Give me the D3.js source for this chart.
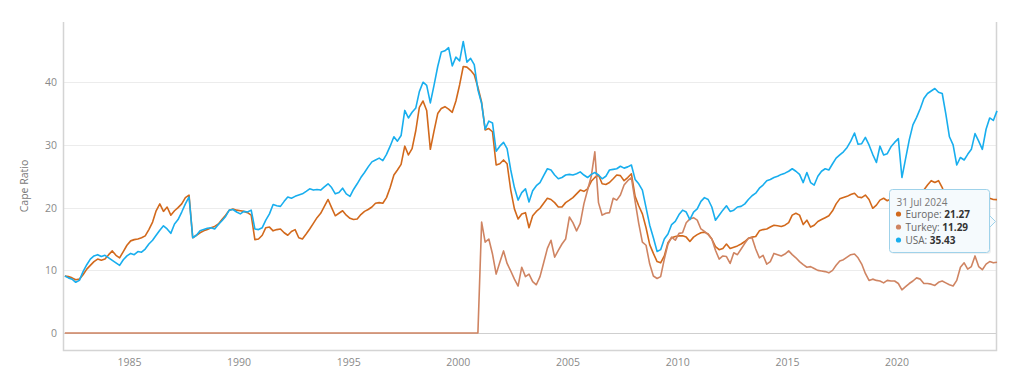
<!DOCTYPE html>
<html>
<head>
<meta charset="utf-8">
<script src="https://cdn.jsdelivr.net/npm/d3@7"></script>
<style>
  body { margin: 0; background: #fff; }
  svg { display: block; font-family: 'Open Sans', sans-serif; }
</style>
</head>
<body>
<div id="chart"></div>
<script>
// series + colours (legend order, later ones drawn on top)
const seriesNames = ['Europe', 'Turkey', 'USA']
const seriesColors = ['#d2691c', '#cf8462', '#18aeee']
const yTicks = [0, 10, 20, 30, 40]
const xTickYears = [1985, 1990, 1995, 2000, 2005, 2010, 2015, 2020]
const yTitle = 'Cape Ratio'
const tooltipDate = '31 Jul 2024'

// one value every 2 months, end of month, Jan 1982 .. Jul 2024
const europe = [
  9.1, 9.0, 8.8, 8.5, 8.6, 9.3, 10.2, 10.8, 11.4, 11.8, 11.6, 11.8,
  12.5, 13.1, 12.4, 12.0, 13.0, 14.0, 14.7, 14.9, 15.0, 15.2, 15.5, 16.5,
  17.7, 19.5, 20.6, 19.4, 20.1, 18.8, 19.5, 20.0, 20.6, 21.6, 22.0, 15.2,
  15.6, 16.0, 16.3, 16.5, 16.8, 17.0, 17.4, 18.1, 18.8, 19.6, 19.8, 19.6,
  19.5, 19.4, 19.2, 18.8, 14.9, 15.0, 15.6, 16.8, 16.9, 16.3, 16.5, 16.6,
  16.0, 15.6, 16.2, 16.5, 15.2, 15.0, 15.8, 16.6, 17.5, 18.4, 19.1, 20.2,
  21.3, 20.0, 18.7, 19.1, 19.5, 18.8, 18.3, 18.1, 18.2, 18.9, 19.4, 19.7,
  20.1, 20.7, 20.8, 20.7, 21.6, 23.2, 25.2, 26.0, 26.9, 29.8, 28.4, 29.4,
  32.3, 36.0, 37.0, 35.5, 29.3, 32.2, 35.0, 35.8, 36.1, 35.7, 35.2, 37.0,
  39.6, 42.5, 42.4, 41.9, 41.2, 39.2, 36.8, 32.4, 32.6, 32.1, 26.8, 27.0,
  27.6, 27.0, 22.8, 19.8, 18.2, 19.0, 19.2, 16.8, 18.7, 19.4, 19.9, 20.7,
  21.5, 21.3, 20.8, 20.1, 20.1, 20.8, 21.2, 21.6, 22.2, 22.8, 22.6, 23.0,
  24.2, 24.8, 25.2, 23.8, 23.7, 24.0, 24.6, 25.2, 25.1, 24.3, 24.8, 25.4,
  21.8, 20.3, 19.0, 16.8, 14.1, 12.7, 11.4, 11.2, 12.3, 14.4, 15.2, 15.4,
  15.5, 15.5, 15.3, 14.6, 15.3, 15.7, 16.0, 16.1, 15.8, 15.0, 13.8, 13.3,
  13.5, 14.2, 13.5, 13.7, 13.9, 14.2, 14.6, 15.1, 15.3, 15.4, 16.3, 16.5,
  16.6, 16.9, 17.2, 17.1, 17.0, 17.2, 17.6, 18.8, 19.1, 18.8, 17.3, 18.0,
  16.9, 17.2, 17.8, 18.1, 18.4, 18.7, 19.5, 20.6, 21.4, 21.6, 21.8, 22.1,
  22.3, 21.7, 21.6, 22.0, 21.3, 19.9, 20.4, 21.2, 21.5, 21.1, 21.4, 21.8,
  21.4, 20.6, 22.0, 21.8, 21.6, 21.7, 22.0, 22.8, 23.6, 24.3, 24.0, 24.3,
  23.2, 21.5, 20.2, 19.4, 19.6, 20.3, 20.5, 20.9, 21.2, 21.5, 21.2, 21.5,
  21.8, 21.5, 21.3, 21.27
]

const turkey = [
  0, 0, 0, 0, 0, 0, 0, 0, 0, 0, 0, 0,
  0, 0, 0, 0, 0, 0, 0, 0, 0, 0, 0, 0,
  0, 0, 0, 0, 0, 0, 0, 0, 0, 0, 0, 0,
  0, 0, 0, 0, 0, 0, 0, 0, 0, 0, 0, 0,
  0, 0, 0, 0, 0, 0, 0, 0, 0, 0, 0, 0,
  0, 0, 0, 0, 0, 0, 0, 0, 0, 0, 0, 0,
  0, 0, 0, 0, 0, 0, 0, 0, 0, 0, 0, 0,
  0, 0, 0, 0, 0, 0, 0, 0, 0, 0, 0, 0,
  0, 0, 0, 0, 0, 0, 0, 0, 0, 0, 0, 0,
  0, 0, 0, 0, 0, 0, 17.7, 14.5, 15.0, 12.6, 9.4, 11.3,
  13.1, 11.1, 9.9, 8.6, 7.5, 10.5, 9.0, 9.4, 8.2, 7.7, 9.0, 11.2,
  13.5, 14.8, 12.1, 13.2, 14.2, 15.0, 18.5, 17.6, 16.3, 17.5, 20.6, 22.8,
  25.0, 28.9, 20.8, 18.8, 19.1, 19.2, 21.5, 21.2, 22.0, 23.6, 24.3, 24.8,
  21.0, 17.5, 14.5, 14.0, 11.0, 9.1, 8.7, 9.0, 11.8, 14.2, 15.3, 14.8,
  15.9, 16.0, 17.6, 18.2, 18.4, 18.0, 16.6, 16.2, 15.7, 15.0, 13.2, 11.8,
  12.3, 12.2, 11.1, 12.8, 12.5, 13.4, 14.3, 15.1, 15.2, 13.4, 12.0, 12.4,
  11.0, 11.4, 12.7, 12.5, 12.3, 12.6, 13.1, 12.5, 12.0, 11.4, 10.9, 10.5,
  10.6, 10.3, 10.0, 9.9, 9.8, 9.6, 10.0, 10.8, 11.5, 11.7, 12.1, 12.5,
  12.6, 12.0, 11.0, 9.5, 8.4, 8.6, 8.4, 8.3, 8.0, 8.4, 8.3, 8.3,
  7.9, 6.9, 7.4, 7.9, 8.3, 8.8, 8.6, 7.9, 7.9, 7.8, 7.6, 8.1,
  8.3, 8.0, 7.7, 7.5, 8.4, 10.5, 11.2, 10.2, 10.6, 12.3, 10.6, 10.1,
  11.0, 11.4, 11.2, 11.29
]

const usa = [
  9.1, 8.8, 8.6, 8.1, 8.4, 9.8, 10.9, 11.8, 12.3, 12.5, 12.2, 12.4,
  12.0, 11.6, 11.2, 10.8, 11.7, 12.3, 12.7, 12.5, 13.0, 12.9, 13.4, 14.2,
  14.8, 15.6, 16.4, 17.1, 16.6, 15.9, 17.4, 18.1, 19.3, 20.6, 21.7, 15.2,
  15.6, 16.3, 16.5, 16.7, 16.8, 16.6, 17.3, 17.9, 18.6, 19.6, 19.7, 19.3,
  19.0, 19.4, 19.3, 19.6, 16.6, 16.5, 16.8, 18.0, 19.0, 20.5, 20.3, 20.2,
  21.0, 21.7, 21.5, 21.8, 22.0, 22.2, 22.6, 23.0, 22.8, 22.9, 22.8, 23.3,
  23.8, 23.2, 22.2, 22.4, 23.1, 22.2, 21.8, 22.9, 23.8, 24.8, 25.6, 26.5,
  27.3, 27.6, 27.9, 27.5, 28.5, 29.8, 31.3, 30.6, 31.5, 35.5, 34.3, 35.2,
  35.9, 38.5, 40.0, 39.5, 36.7, 39.5, 42.5, 44.8, 45.0, 45.5, 42.6, 44.0,
  43.4, 46.5, 43.2, 43.8, 42.8, 38.8, 36.6, 32.5, 33.8, 33.5, 29.0, 29.8,
  30.4, 29.4, 26.0, 23.2, 21.2, 22.4, 23.0, 20.9, 22.7, 23.5, 24.0, 25.1,
  26.2, 26.0, 25.2, 24.6, 24.8, 25.2, 25.3, 25.2, 25.4, 25.7, 25.2, 24.8,
  25.3, 25.6, 25.2, 24.6, 25.0, 26.0, 26.1, 26.2, 26.6, 26.3, 26.5, 26.8,
  24.5, 23.8, 22.8, 20.0, 17.2, 15.2, 13.0, 13.3, 15.0, 15.8, 17.3, 17.8,
  18.9, 19.6, 19.3, 18.1, 19.3, 19.8, 21.0, 21.6, 21.3, 20.1, 18.0, 18.8,
  19.6, 20.3, 19.4, 19.6, 20.1, 20.2, 20.6, 21.3, 21.9, 22.3, 23.1, 23.6,
  24.3, 24.5, 24.8, 25.0, 25.3, 25.5, 25.8, 26.2, 25.8, 25.3, 24.0, 25.6,
  24.0, 23.6, 25.0, 25.8, 26.2, 26.0, 27.0, 27.9, 28.4, 28.9, 29.6, 30.6,
  31.9, 30.1, 30.2, 31.2, 30.0, 28.5, 27.2, 29.8, 28.4, 28.6, 29.7, 30.4,
  31.0, 24.8, 27.8, 30.8, 33.2, 34.4, 35.8, 37.4, 38.2, 38.6, 39.0, 38.4,
  38.2, 35.0, 31.3, 30.0, 26.8, 28.0, 27.6, 28.5, 29.3, 31.8, 30.6, 29.3,
  32.5, 34.3, 33.9, 35.43
]

const seriesValues = [europe, turkey, usa]

// set the dimensions and margins of the graph
const margin = { top: 22, right: 27, bottom: 27, left: 63 },
  width = 1024 - margin.left - margin.right,
  height = 377 - margin.top - margin.bottom

const dates = europe.map((_, i) =>
  d3.timeDay.offset(d3.timeMonth.offset(new Date(1982, 1, 1), i * 2), -1)
)

const svg = d3
  .select('#chart')
  .append('svg')
  .attr('width', 1024)
  .attr('height', 377)

const g = svg.append('g').attr('transform', `translate(${margin.left}, ${margin.top})`)

const xScale = d3
  .scaleTime()
  .domain([new Date(1981, 11, 31), dates[dates.length - 1]])
  .range([0, width])

const yScale = d3.scaleLinear().domain([-2.7, 49.6]).range([height, 0])

// horizontal grid lines
g.append('g')
  .selectAll('line')
  .data(yTicks)
  .join('line')
  .attr('x1', 0)
  .attr('x2', width)
  .attr('y1', (d) => Math.round(yScale(d)) + 0.5)
  .attr('y2', (d) => Math.round(yScale(d)) + 0.5)
  .attr('stroke', (d) => (d === 0 ? '#cfcfcf' : '#ececec'))
  .attr('stroke-width', 1)

// frame: left, right, bottom
g.append('path')
  .attr('d', `M0.5,0V${height + 0.5}H${width - 0.5}V0`)
  .attr('fill', 'none')
  .attr('stroke', '#d4d4d4')
  .attr('stroke-width', 1.5)

// y axis labels
const yAxis = g
  .append('g')
  .call(d3.axisLeft(yScale).tickValues(yTicks).tickSize(0).tickPadding(6))
yAxis.select('.domain').remove()
yAxis.selectAll('text').attr('fill', '#8a8a8a').attr('font-size', '10.5px').attr('font-family', "'Open Sans', sans-serif")

// x axis labels
const xAxis = g
  .append('g')
  .attr('transform', `translate(0, ${height})`)
  .call(
    d3
      .axisBottom(xScale)
      .tickValues(xTickYears.map((y) => new Date(y, 0, 1)))
      .tickFormat(d3.timeFormat('%Y'))
      .tickSize(0)
      .tickPadding(9)
  )
xAxis.select('.domain').remove()
xAxis.selectAll('text').attr('fill', '#8a8a8a').attr('font-size', '10.5px').attr('font-family', "'Open Sans', sans-serif")

// y title
svg
  .append('text')
  .attr('transform', `translate(28, ${margin.top + height / 2}) rotate(-90)`)
  .attr('text-anchor', 'middle')
  .attr('fill', '#777')
  .attr('font-size', '10.5px')
  .text(yTitle)

// lines
const lineGen = d3
  .line()
  .x((d, i) => xScale(dates[i]))
  .y((d) => yScale(d))

seriesValues.forEach((vals, s) => {
  g.append('path')
    .attr('d', lineGen(vals))
    .attr('fill', 'none')
    .attr('stroke', seriesColors[s])
    .attr('stroke-width', 1.6)
    .attr('stroke-linejoin', 'round')
})

// tooltip box for the last point
const last = dates.length - 1
const tip = svg.append('g').attr('transform', 'translate(889.5, 189.5)')
tip
  .append('rect')
  .attr('x', 1.5)
  .attr('y', 1.5)
  .attr('width', 100)
  .attr('height', 63)
  .attr('rx', 3)
  .attr('fill', 'rgba(0,0,0,0.06)')
// little pointer on the right side
tip
  .append('path')
  .attr('d', 'M100,26L106,32L100,38')
  .attr('fill', '#f5fafd')
  .attr('stroke', '#9fd2ea')
  .attr('stroke-width', 1)
tip
  .append('rect')
  .attr('width', 100)
  .attr('height', 63)
  .attr('rx', 3)
  .attr('fill', '#f5fafd')
  .attr('stroke', '#9fd2ea')
  .attr('stroke-width', 1)

tip
  .append('text')
  .attr('x', 7)
  .attr('y', 16)
  .attr('fill', '#777')
  .attr('font-size', '10px')
  .text(tooltipDate)

seriesNames.forEach((name, s) => {
  const row = tip.append('g').attr('transform', `translate(0, ${28 + s * 13})`)
  row.append('circle').attr('cx', 9).attr('cy', -3.5).attr('r', 2.6).attr('fill', seriesColors[s])
  const t = row.append('text').attr('x', 16).attr('y', 0).attr('font-size', '10px').attr('fill', '#666')
  t.append('tspan').text(name + ': ')
  t.append('tspan').attr('font-weight', 'bold').attr('fill', '#333').text(d3.format('.2f')(seriesValues[s][last]))
})
</script>
</body>
</html>
